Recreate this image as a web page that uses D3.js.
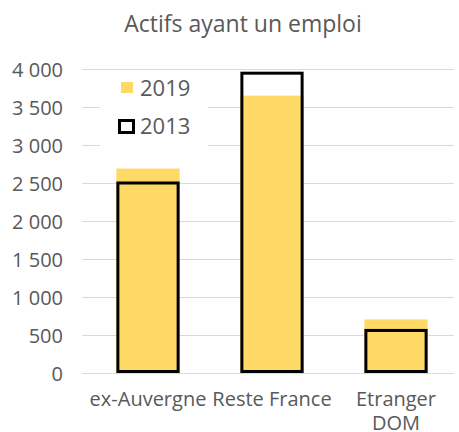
<!DOCTYPE html>
<html>
<head>
<meta charset="utf-8">
<script src="https://cdn.jsdelivr.net/npm/d3@7"></script>
<style>
  body { margin: 0; background: #fff; }
  text { font-family: "Open Sans", sans-serif; fill: #595959; }
</style>
</head>
<body>
<div id="chart"></div>
<script>
var categories = ["ex-Auvergne", "Reste France", "Etranger\nDOM"];
var values2019 = [2690, 3650, 705];
var values2013 = [2500, 3945, 560];
var yTicks = [0, 500, 1000, 1500, 2000, 2500, 3000, 3500, 4000];
var seriesNames = ["2019", "2013"];

var width = 459;
var height = 432;
var margin = {top: 69, right: 1, bottom: 59, left: 86};

var fr = d3.formatLocale({decimal: ",", thousands: " ", grouping: [3], currency: ["", " €"]});
var fmt = fr.format(",d");

var svg = d3.select("#chart").append("svg")
  .attr("width", width)
  .attr("height", height);

var x = d3.scaleBand()
  .domain(categories)
  .range([margin.left, width - margin.right])
  .paddingInner(0.49)
  .paddingOuter(0.245);

var y = d3.scaleLinear()
  .domain([0, 4000])
  .range([height - margin.bottom, margin.top]);

/* title */
svg.append("text")
  .attr("x", 243)
  .attr("y", 32)
  .attr("text-anchor", "middle")
  .style("font-size", "23px")
  .text("Actifs ayant un emploi");

/* gridlines + y labels */
var yAxis = d3.axisLeft(y)
  .tickValues(yTicks)
  .tickFormat(fmt)
  .tickSize(-(width - margin.right - 82 - 4))
  .tickPadding(19);

svg.append("g")
  .attr("class", "y axis")
  .attr("transform", `translate(82, 0)`)
  .call(yAxis)
  .call(g => g.select(".domain").remove())
  .call(g => g.selectAll(".tick line").attr("stroke", "#d9d9d9").attr("stroke-width", 1))
  .call(g => g.selectAll(".tick text")
    .style("font-size", "20px")
    .style("white-space", "pre")
    .attr("fill", "#595959")
    .attr("dy", "0.36em"));

/* bars 2019 */
svg.append("g")
  .selectAll("rect")
  .data(values2019)
  .enter().append("rect")
  .attr("x", (d, i) => x(categories[i]))
  .attr("width", x.bandwidth())
  .attr("y", d => y(d))
  .attr("height", d => y(0) - y(d))
  .attr("fill", "#ffd966");

/* bars 2013 outline */
svg.append("g")
  .selectAll("rect")
  .data(values2013)
  .enter().append("rect")
  .attr("x", (d, i) => x(categories[i]) + 1.5)
  .attr("width", x.bandwidth() - 3)
  .attr("y", d => y(d))
  .attr("height", d => y(0) - y(d) - 1.5)
  .attr("fill", "none")
  .attr("stroke", "#000")
  .attr("stroke-width", 3);

/* x labels */
var xl = svg.append("g")
  .selectAll("text")
  .data(categories)
  .enter().append("text")
  .attr("x", d => x(d) + x.bandwidth() / 2)
  .attr("y", 406)
  .attr("text-anchor", "middle")
  .style("font-size", "20px");

xl.selectAll("tspan")
  .data(d => d.split("\n"))
  .enter().append("tspan")
  .attr("x", function() { return this.parentNode.getAttribute("x"); })
  .attr("dy", (d, i) => i ? 24 : 0)
  .text(d => d);

/* legend */
var legend = svg.append("g");

legend.append("rect")
  .attr("x", 100)
  .attr("y", 73)
  .attr("width", 108)
  .attr("height", 76)
  .attr("fill", "#fff");

legend.append("rect")
  .attr("x", 121)
  .attr("y", 82)
  .attr("width", 12)
  .attr("height", 11)
  .attr("fill", "#ffd966");

legend.append("rect")
  .attr("x", 119.5)
  .attr("y", 120.5)
  .attr("width", 14)
  .attr("height", 12)
  .attr("fill", "#fff")
  .attr("stroke", "#000")
  .attr("stroke-width", 3);

legend.selectAll(".ltext")
  .data(seriesNames)
  .enter().append("text")
  .attr("class", "ltext")
  .attr("x", 140)
  .attr("y", (d, i) => 96 + i * 38)
  .style("font-size", "22px")
  .text(d => d);
</script>
</body>
</html>
